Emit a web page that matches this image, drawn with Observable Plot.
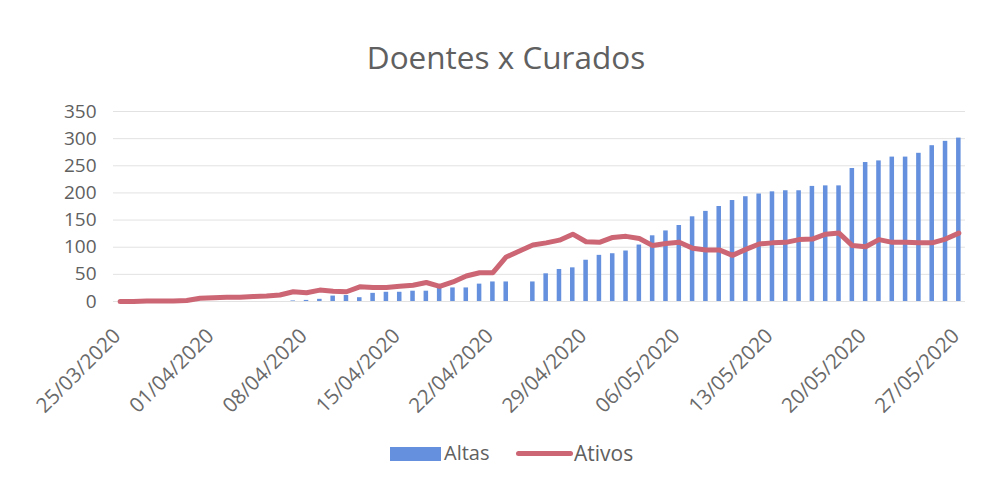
<!DOCTYPE html>
<html><head><meta charset="utf-8">
<script src="https://cdn.jsdelivr.net/npm/d3@7"></script>
<script src="https://cdn.jsdelivr.net/npm/@observablehq/plot@0.6"></script>
<style>
body{margin:0;background:#fff;font-family:"Open Sans",sans-serif;}
#wrap{width:994px;height:487px;position:relative;overflow:hidden;}
#title{position:absolute;left:0;top:35px;width:1012px;text-align:center;font-size:31.5px;line-height:44px;color:#606060;}
#chart{position:absolute;left:0;top:90px;}
.lg{position:absolute;}
.lgt{position:absolute;top:439px;font-size:20px;line-height:28px;color:#606060;}
</style></head>
<body><div id="wrap">
<div id="title">Doentes x Curados</div>
<div id="chart"></div>
<div class="lg" style="left:390px;top:447px;width:51px;height:14px;background:#6590dd"></div>
<div class="lgt" style="left:444px">Altas</div>
<div class="lg" style="left:516px;top:451px;width:57px;height:5px;border-radius:3px;background:#cc6674"></div>
<div class="lgt" style="left:574px;font-size:21px">Ativos</div>
</div>
<script>
const startDate = "2020-03-25";
const nDays = 64;
const altas = [null,null,null,null,null,null,null,null,null,null,null,null,null,
  1,2,4,10,11,7,15,17,17,19,19,25,25,25,32,36,36,null,36,51,59,62,76,85,88,93,104,121,130,
  140,156,166,175,186,193,198,202,204,204,212,213,213,245,256,259,266,266,273,287,295,301];
const ativos = [0,0,1,1,1,2,6,7,8,8,9,10,12,18,16,21,19,18,27,26,26,28,30,35,28,36,47,53,53,82,
  93,104,108,113,124,110,109,118,120,116,103,107,109,98,95,95,85,96,106,108,109,114,115,124,126,
  103,101,114,109,109,108,108,115,126];
const yTicks = [0,50,100,150,200,250,300,350];
const tickEvery = 7;

const fmt = d3.utcFormat("%d/%m/%Y");
const d0 = new Date(startDate + "T00:00:00Z");
const dates = d3.range(nDays).map(i => fmt(d3.utcDay.offset(d0, i)));
const xTicks = dates.filter((d, i) => i % tickEvery === 0);
const rows = dates.map((d, i) => ({date: d, altas: altas[i], ativos: ativos[i]}));

const chart = Plot.plot({
  width: 994, height: 340,
  marginLeft: 113, marginRight: 29, marginTop: 21, marginBottom: 129,
  style: {fontFamily: "Open Sans, sans-serif", color: "#606060", background: "transparent"},
  x: {type: "band", domain: dates, paddingInner: 0.66, paddingOuter: 0.33, round: false, axis: null},
  y: {domain: [0, 350], axis: null},
  marks: [
    Plot.gridY(yTicks, {stroke: "#e2e2e2", strokeOpacity: 1}),
    Plot.axisY({ticks: yTicks, tickSize: 0, tickPadding: 17, fontSize: 19, fill: "#606060", label: null}),
    Plot.barY(rows.filter(r => r.altas != null), {x: "date", y: "altas", fill: "#6590dd"}),
    Plot.lineY(rows, {x: "date", y: "ativos", stroke: "#cc6674", strokeWidth: 5, strokeLinejoin: "round", strokeLinecap: "round"}),
    Plot.axisX({ticks: xTicks, tickSize: 0, tickRotate: -45, tickPadding: 31, dx: -3, fontSize: 20.5, fill: "#6a6a6a", label: null})
  ]
});
document.getElementById("chart").appendChild(chart);
</script>
</body></html>
